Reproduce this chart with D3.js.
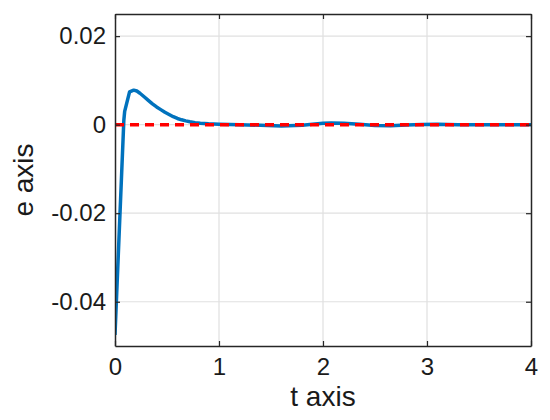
<!DOCTYPE html>
<html><head><meta charset="utf-8">
<script src="https://cdn.jsdelivr.net/npm/d3@7"></script>
<style>body{margin:0;background:#fff}</style>
</head><body>
<svg id="c" width="550" height="420"></svg>
<script>
const tValues = [0, 0.085, 0.093, 0.14, 0.18, 0.21, 0.24, 0.28, 0.32, 0.36, 0.40, 0.44, 0.48, 0.52, 0.56, 0.60, 0.64, 0.68, 0.72, 0.77, 0.82, 0.9, 1.0, 1.2, 1.4, 1.6, 1.8, 2.0, 2.08, 2.2, 2.35, 2.5, 2.65, 2.8, 2.95, 3.1, 3.3, 3.6, 3.8, 4.0];
const eValues = [-0.0475, 0.001, 0.003, 0.0074, 0.0078, 0.0076, 0.0071, 0.0063, 0.0055, 0.0047, 0.0040, 0.0034, 0.0028, 0.0023, 0.0018, 0.0014, 0.0011, 0.00085, 0.00065, 0.00045, 0.0003, 0.00018, 0.0001, 0.0000, -0.00015, -0.0003, -0.00015, 0.0003, 0.0004, 0.0003, 0.0001, -0.0002, -0.00025, -0.0001, 0.00005, 0.0001, 0.0, 0.0, 0.0, 0.0];
const refT = [0, 4];
const refE = [0, 0];
const xTicks = [0, 1, 2, 3, 4];
const yTicks = [-0.04, -0.02, 0, 0.02];
const yTickLabels = ["-0.04", "-0.02", "0", "0.02"];

const svg = d3.select("#c");
const L = 115, R = 531, T = 14, B = 346;
const x = d3.scaleLinear().domain([0, 4]).range([L, R]);
const y = d3.scaleLinear().domain([-0.05, 0.025]).range([B, T]);
const font = "Arial, 'Liberation Sans', Helvetica, sans-serif";

// grid
svg.append("g").selectAll("line").data(xTicks.slice(1, -1)).join("line")
  .attr("x1", d => x(d)).attr("x2", d => x(d)).attr("y1", T).attr("y2", B)
  .attr("stroke", "#e0e0e0").attr("stroke-width", 1.2);
svg.append("g").selectAll("line").data(yTicks).join("line")
  .attr("y1", d => y(d)).attr("y2", d => y(d)).attr("x1", L).attr("x2", R)
  .attr("stroke", "#e0e0e0").attr("stroke-width", 1.2);

svg.append("clipPath").attr("id", "cl").append("rect")
  .attr("x", L).attr("y", T).attr("width", R - L).attr("height", B - T);

const line = d3.line().x(d => x(d[0])).y(d => y(d[1]));
svg.append("path").datum(tValues.map((t, i) => [t, eValues[i]]))
  .attr("d", line).attr("fill", "none").attr("stroke", "#0072BD")
  .attr("stroke-width", 3.5).attr("stroke-linejoin", "round").attr("clip-path", "url(#cl)");
svg.append("path").datum(refT.map((t, i) => [t, refE[i]]))
  .attr("d", line)
  .attr("fill", "none").attr("stroke", "#FF0000")
  .attr("stroke-width", 3.5).attr("stroke-dasharray", "9,6");

// axes
const ax = svg.append("g").attr("transform", `translate(0,${B})`)
  .call(d3.axisBottom(x).tickValues(xTicks).tickSizeInner(-5).tickSizeOuter(0).tickPadding(12).tickFormat(d3.format("d")));
const ay = svg.append("g").attr("transform", `translate(${L},0)`)
  .call(d3.axisLeft(y).tickValues(yTicks).tickSizeInner(-5).tickSizeOuter(0).tickPadding(9).tickFormat((d, i) => yTickLabels[i]));
const axT = svg.append("g").attr("transform", `translate(0,${T})`)
  .call(d3.axisTop(x).tickValues(xTicks).tickSizeInner(-5).tickSizeOuter(0).tickFormat(""));
const ayR = svg.append("g").attr("transform", `translate(${R},0)`)
  .call(d3.axisRight(y).tickValues(yTicks).tickSizeInner(-5).tickSizeOuter(0).tickFormat(""));
[ax, ay, axT, ayR].forEach(g => {
  g.select(".domain").attr("stroke", "#262626").attr("stroke-width", 1.5);
  g.selectAll(".tick line").attr("stroke", "#262626").attr("stroke-width", 1.2);
  g.selectAll("text").attr("fill", "#1a1a1a").attr("font-family", font).attr("font-size", 24);
});
ax.selectAll("text").attr("dy", "0.71em");

svg.append("text").attr("x", (L + R) / 2).attr("y", 406).attr("text-anchor", "middle")
  .attr("font-family", font).attr("font-size", 28).attr("fill", "#1a1a1a").text("t axis");
svg.append("text").attr("transform", `translate(33,${(T + B) / 2}) rotate(-90)`).attr("text-anchor", "middle")
  .attr("font-family", font).attr("font-size", 28).attr("fill", "#1a1a1a").text("e axis");
</script>
</body></html>
